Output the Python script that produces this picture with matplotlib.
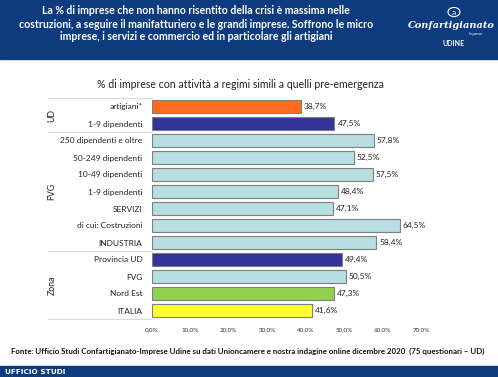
import matplotlib
matplotlib.use("Agg")
import matplotlib.pyplot as plt
from matplotlib.patches import Rectangle, Circle

plt.rcParams['font.family'] = ['Lato', 'DejaVu Sans']

categories = ["artigiani*", "1-9 dipendenti", "250 dipendenti e oltre", "50-249 dipendenti",
              "10-49 dipendenti", "1-9 dipendenti", "SERVIZI", "di cui: Costruzioni",
              "INDUSTRIA", "Provincia UD", "FVG", "Nord Est", "ITALIA"]
values = [38.7, 47.5, 57.8, 52.5, 57.5, 48.4, 47.1, 64.5, 58.4, 49.4, 50.5, 47.3, 41.6]
colors = ["#FF6A1F", "#333399", "#B7DEE0", "#B7DEE0", "#B7DEE0", "#B7DEE0", "#B7DEE0",
          "#B7DEE0", "#B7DEE0", "#333399", "#B7DEE0", "#92D050", "#FFFF33"]
groups = [("UD", 0, 1), ("FVG", 2, 8), ("Zona", 9, 12)]
xticks = [0, 10, 20, 30, 40, 50, 60, 70]

W, H = 498, 377
fig = plt.figure(figsize=(W / 100, H / 100), dpi=100)
fig.patch.set_facecolor("white")

blue = "#0D3B7D"
# header band
fig.add_artist(Rectangle((0, 1 - 59 / H), 1, 59 / H, transform=fig.transFigure, color=blue, zorder=0))
# footer band
fig.add_artist(Rectangle((0, 0), 1, 11 / H, transform=fig.transFigure, color=blue, zorder=0))

header = ["La % di imprese che non hanno risentito della crisi è massima nelle",
          "costruzioni, a seguire il manifatturiero e le grandi imprese. Soffrono le micro",
          "imprese, i servizi e commercio ed in particolare gli artigiani"]
for i, line in enumerate(header):
    fig.text(196 / W, 1 - (11 + 13 * i) / H, line, color="white", fontsize=7.6,
             fontweight="bold", ha="center", va="center")

# logo
fig.add_artist(Circle((454 / W, 1 - 12 / H), 6 / W, transform=fig.transFigure,
                      fill=False, ec="white", lw=0.8))
fig.text(454 / W, 1 - 12.5 / H, "a", color="white", fontsize=6, ha="center", va="center")
fig.text(451 / W, 1 - 25 / H, "Confartigianato", color="white", fontsize=7,
         fontstyle="italic", fontweight="bold", family="DejaVu Serif", ha="center", va="center")
fig.text(476 / W, 1 - 33.5 / H, "Imprese", color="white", fontsize=3, ha="center", va="center")
fig.text(454 / W, 1 - 43 / H, "UDINE", color="white", fontsize=5, fontweight="bold",
         ha="center", va="center")

fig.text(5 / W, 5.5 / H, "UFFICIO STUDI", color="white", fontsize=5.3, fontweight="bold",
         ha="left", va="center", family="DejaVu Sans")

# chart title
fig.text(240 / W, 1 - 84 / H, "% di imprese con attività a regimi simili a quelli pre-emergenza",
         fontsize=7.6, color="#222222", ha="center", va="center")

# source
fig.text(248 / W, 1 - 351 / H,
         "Fonte: Ufficio Studi Confartigianato-Imprese Udine su dati Unioncamere e nostra indagine online dicembre 2020  (75 questionari – UD)",
         fontsize=5.65, fontweight="bold", color="#111111", ha="center", va="center")

ax = fig.add_axes([152 / W, 58 / H, 268.8 / W, 221 / H])
ypos = list(range(len(categories)))
ax.barh(ypos, values, height=0.8, color=colors, edgecolor="#7F7F7F", linewidth=0.8)
for y, v in zip(ypos, values):
    ax.text(v + 0.8, y, f"{v:.1f}%".replace(".", ","), fontsize=6, va="center", ha="left",
            color="#222222")
ax.set_xlim(0, 70)
ax.set_ylim(12.5, -0.5)
ax.set_yticks(ypos)
ax.set_yticklabels(categories, fontsize=6.0, color="#222222")
ax.set_xticks(xticks)
ax.set_xticklabels([f"{t:.1f}%".replace(".", ",") for t in xticks], fontsize=4.5, color="#333333")
ax.tick_params(axis="both", length=0)
ax.tick_params(axis="y", pad=7)
ax.tick_params(axis="x", pad=6)
for s in ax.spines.values():
    s.set_visible(False)

x0 = (48 - 152) / 268.8
for yb in [-0.5, 1.5, 8.5, 12.5]:
    ax.plot([x0, 0], [yb, yb], transform=ax.get_yaxis_transform(), color="#D9D9D9",
            lw=0.8, clip_on=False)
gx = (52 - 152) / 268.8
for name, a, b in groups:
    ax.text(gx, (a + b) / 2, name, rotation=90, fontsize=6.3, va="center", ha="center",
            transform=ax.get_yaxis_transform(), color="#222222")

fig.savefig("out.png", dpi=100)
